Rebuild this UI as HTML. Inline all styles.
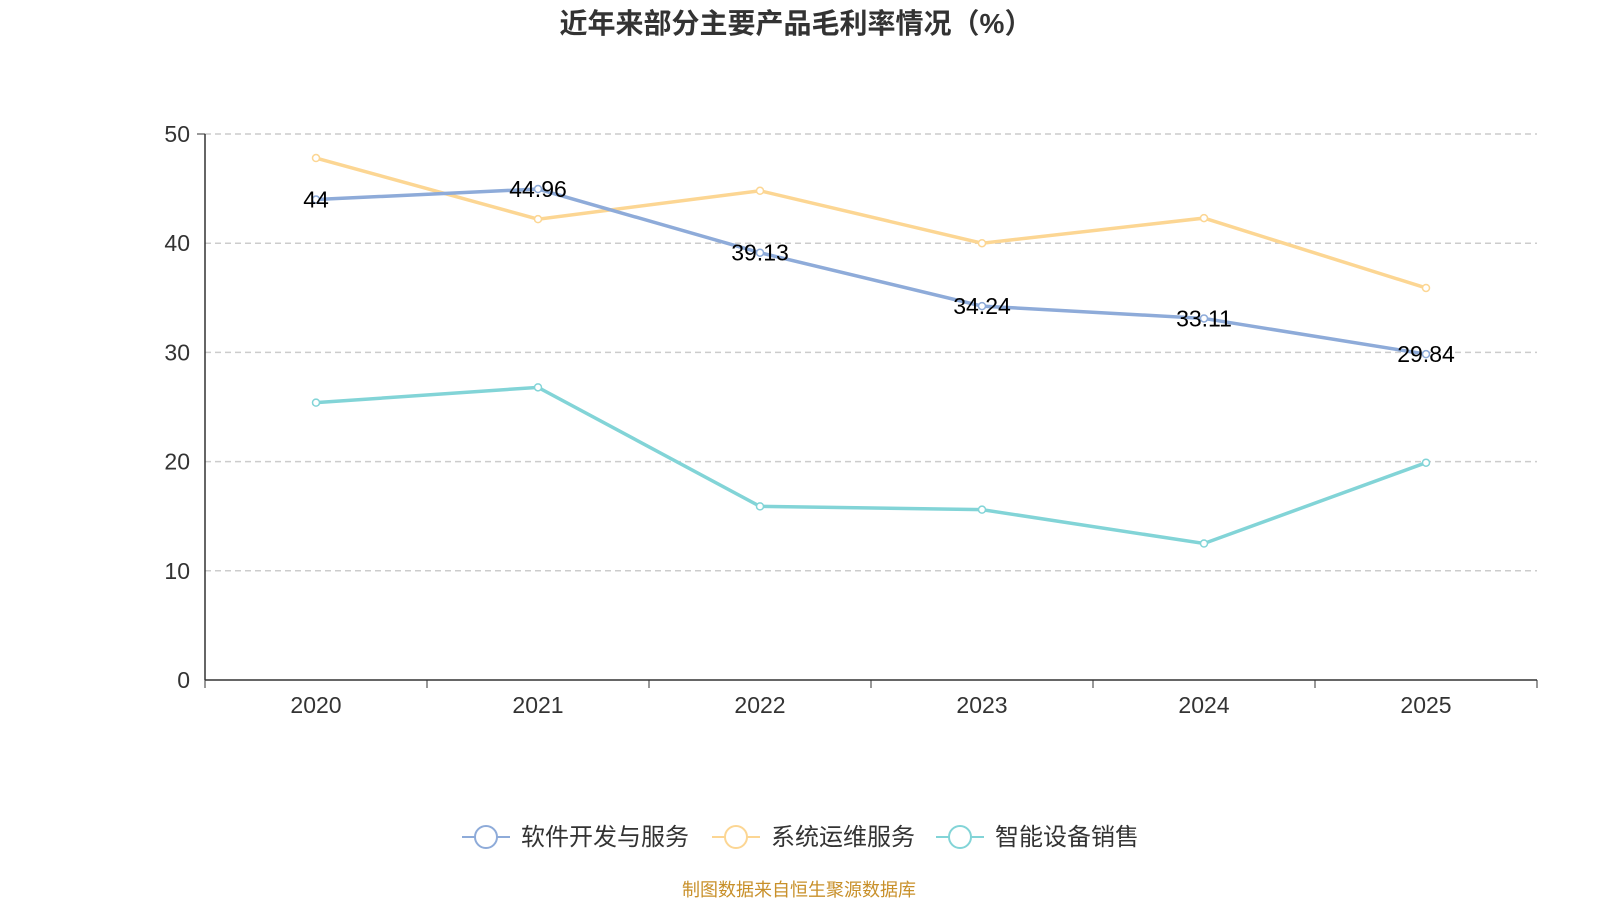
<!DOCTYPE html>
<html><head><meta charset="utf-8"><style>
body{margin:0;background:#fff;width:1600px;height:900px;overflow:hidden;font-family:"Liberation Sans","Noto Sans CJK SC",sans-serif}
</style></head><body>
<svg id="c" width="1600" height="900" style="font-family:'Liberation Sans','Noto Sans CJK SC',sans-serif">
<text x="796" y="33" text-anchor="middle" font-size="28" font-weight="bold" fill="#333">近年来部分主要产品毛利率情况（%）</text>
<g id="grid"></g><g id="series"></g>
<g font-size="24" fill="#333">
<g><line x1="462" y1="837" x2="510" y2="837" stroke="#8eabd9" stroke-width="2"/><circle cx="486" cy="837" r="11" fill="#fff" stroke="#8eabd9" stroke-width="2"/><text x="521" y="845">软件开发与服务</text></g>
<g><line x1="712" y1="837" x2="760" y2="837" stroke="#fcd693" stroke-width="2"/><circle cx="736" cy="837" r="11" fill="#fff" stroke="#fcd693" stroke-width="2"/><text x="771" y="845">系统运维服务</text></g>
<g><line x1="936" y1="837" x2="984" y2="837" stroke="#82d4d7" stroke-width="2"/><circle cx="960" cy="837" r="11" fill="#fff" stroke="#82d4d7" stroke-width="2"/><text x="995" y="845">智能设备销售</text></g>
</g>
<text x="799" y="896" text-anchor="middle" font-size="18" fill="#c8902a">制图数据来自恒生聚源数据库</text>
</svg>
<script>
const categories=["2020","2021","2022","2023","2024","2025"];
const yTicks=[0,10,20,30,40,50];
const software=[44,44.96,39.13,34.24,33.11,29.84];
const ops=[47.8,42.2,44.8,40,42.3,35.9];
const devices=[25.4,26.8,15.9,15.6,12.5,19.9];
const NS="http://www.w3.org/2000/svg";
const x0=205,x1=1537,yb=680,yt=134;
const bw=(x1-x0)/categories.length;
const X=i=>x0+bw*(i+0.5);
const Y=v=>yb-(v/50)*(yb-yt);
function mk(t,a,p){const e=document.createElementNS(NS,t);for(const k in a)e.setAttribute(k,a[k]);p.appendChild(e);return e;}
const g=document.getElementById('grid');
yTicks.forEach(v=>{
 if(v>0){const l=mk('line',{x1:x0,x2:x1,y1:Y(v),y2:Y(v),stroke:'#ccc','stroke-dasharray':'6,4','stroke-width':1.5},g);
 
 }
 const t=mk('text',{x:190,y:Y(v)+8,'text-anchor':'end','font-size':23,fill:'#333'},g);t.textContent=v;
 
 
});
mk('line',{x1:x0,x2:x0,y1:yt,y2:yb,stroke:'#333','stroke-width':1.5},g);
mk('line',{x1:x0,x2:x1,y1:yb,y2:yb,stroke:'#333','stroke-width':1.5},g);
for(let i=0;i<=categories.length;i++)mk('line',{x1:x0+bw*i,x2:x0+bw*i,y1:yb,y2:yb+8,stroke:'#333'},g);
mk('line',{x1:x0-8,x2:x0,y1:yt,y2:yt,stroke:'#333'},g);
categories.forEach((c,i)=>{const t=mk('text',{x:X(i),y:yb+33,'text-anchor':'middle','font-size':23,fill:'#333'},g);t.textContent=c;
 
 });
const s=document.getElementById('series');
function draw(data,color,name,labels){
 const p=mk('polyline',{points:data.map((v,i)=>X(i)+','+Y(v)).join(' '),fill:'none',stroke:color,'stroke-width':3.5},s);
 
 
 data.forEach((v,i)=>{const c=mk('circle',{cx:X(i),cy:Y(v),r:3.5,fill:'#fff',stroke:color,'stroke-width':1.5},s);
  
  
  if(labels){const t=mk('text',{x:X(i),y:Y(v)+8,'text-anchor':'middle','font-size':23,fill:'#000'},s);t.textContent=v;
  
  }});
}
draw(ops,'#fcd693','ops',false);
draw(devices,'#82d4d7','devices',false);
draw(software,'#8eabd9','software',true);
</script>
</body></html>
